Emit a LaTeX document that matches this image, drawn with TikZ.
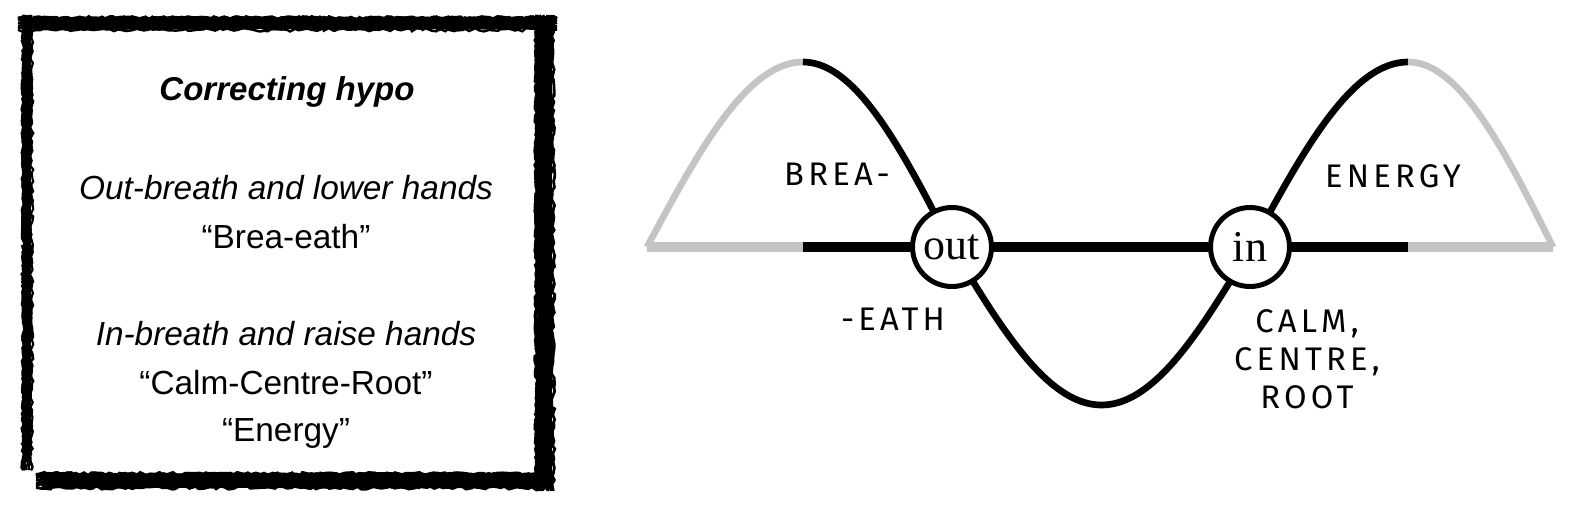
\documentclass[tikz,border=0pt]{standalone}
\usepackage{fontspec}
\setmainfont{Liberation Sans}
\newfontfamily\handfont[LetterSpace=13]{Fira Sans}
\newfontfamily\circfont{Liberation Serif}
\usetikzlibrary{decorations.pathmorphing}
\definecolor{wavegray}{RGB}{196,196,196}

\begin{document}
\begin{tikzpicture}[x=0.02cm, y=-0.02cm, node distance=0.76cm]
    % Style definitions for the frame, texts and circles
    \tikzset{brush/.style={draw=black, decorate,
             decoration={random steps, segment length=2.5pt, amplitude=1pt}}}
    \tikzset{boxtext/.style={anchor=base, font=\fontsize{19}{23}\selectfont\itshape}}
    \tikzset{quote/.style={anchor=base, font=\fontsize{19}{23}\selectfont}}
    \tikzset{lbl/.style={font=\handfont\fontsize{18.6}{22}\selectfont,
             text height=1.55ex, text depth=0.35ex, inner sep=0pt}}
    \tikzset{phase/.style={circle, draw=black, line width=2.85pt, fill=white,
             minimum size=1.58cm, inner sep=0pt, font=\circfont\fontsize{25}{30}\selectfont}}
    \tikzstyle{wave} = [line width=3.8pt, black]
    \tikzstyle{waveg} = [line width=3.8pt, wavegray]
    \tikzstyle{axis} = [line width=5.3pt]

    \useasboundingbox (0,0) rectangle (1576,518);

    % Rough brush frame
    \pgfmathsetseed{42}
    \draw[line width=4.2pt] (27.5,17) -- (27.5,462);
    \draw[line width=6pt] (20,24) -- (555,24);
    \draw[line width=8.5pt] (545,16) -- (545,489);
    \draw[line width=8pt] (42,481) -- (553,481);
    \foreach \k in {1,...,9}{
      \pgfmathsetmacro{\jit}{rand}
      \draw[brush, line width=1.2pt] (27.5+5*\jit,15) -- (27.5+5*\jit,470);
      \draw[brush, line width=1.4pt] (18,24+7*\jit) -- (557,24+7*\jit);
      \draw[brush, line width=1.6pt] (545+10*\jit,15) -- (545+10*\jit,491);
      \draw[brush, line width=1.6pt] (36,481+8*\jit) -- (553,481+8*\jit);
    }

    % Texts in the frame
    \node (title) [anchor=base, font=\fontsize{18.8}{22}\selectfont\bfseries\itshape] at (287,100) {Correcting hypo};
    \node (outtext) [boxtext] at (286,199) {Out-breath and lower hands};
    \node (outword) [quote] at (286,248) {“Brea-eath”};
    \node (intext) [boxtext] at (286,345) {In-breath and raise hands};
    \node (inword) [quote] at (286,394) {“Calm-Centre-Root”};
    \node (energyword) [quote] at (286,441) {“Energy”};

    % Wave
    \draw[waveg] plot[domain=0:90, samples=40, variable=\t] ({647+156/90*\t}, {247-185*sin(\t)});
    \draw[wave] plot[domain=90:180, samples=40, variable=\t] ({803+149/90*(\t-90)}, {247-185*sin(\t)});
    \draw[wave] plot[domain=180:360, samples=80, variable=\t] ({952+299/180*(\t-180)}, {247-158*sin(\t)});
    \draw[wave] plot[domain=360:450, samples=40, variable=\t] ({1251+157/90*(\t-360)}, {247-185*sin(\t)});
    \draw[waveg] plot[domain=450:540, samples=40, variable=\t] ({1408+145/90*(\t-450)}, {247-185*sin(\t)});

    % Base line ends
    \coordinate (grayL) at (647,247);
    \coordinate (blackL) at (803,247);
    \coordinate (blackR) at (1408,247);
    \coordinate (grayR) at (1553,247);

    % Out and in circles
    \node (breathout) [phase] at (952,247) {out};
    \node (breathin) [phase] at (1250,247) {in};

    % Base line
    \draw [axis, wavegray] (grayL) -- (blackL);
    \draw [axis] (blackL) -- (breathout);
    \draw [axis] (breathout) -- (breathin);
    \draw [axis] (breathin) -- (blackR);
    \draw [axis, wavegray] (blackR) -- (grayR);

    % Labels
    \node (brea) [lbl] at (837,180) {BREA-};
    \node (eath) [lbl] at (893,325) {-EATH};
    \node (energy) [lbl] at (1393,182) {ENERGY};
    \node (calm) [lbl] at (1307,327) {CALM,};
    \node (centre) [lbl, below of=calm] {CENTRE,};
    \node (root) [lbl, below of=centre] {ROOT};

\end{tikzpicture}
\end{document}
